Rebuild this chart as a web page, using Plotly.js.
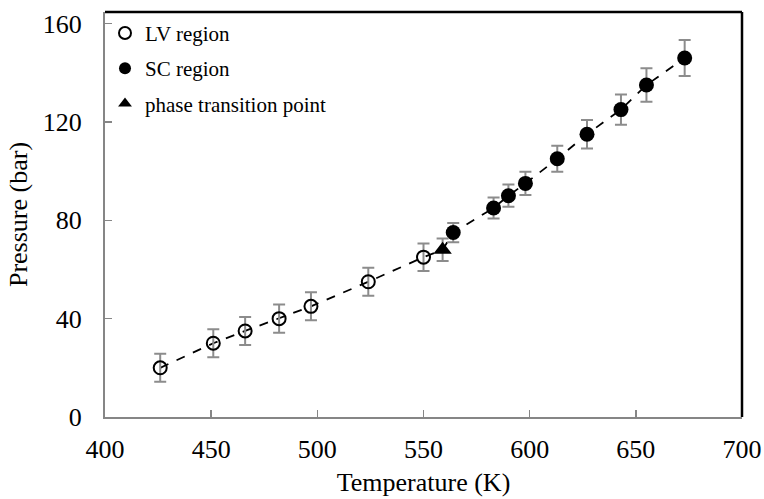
<!DOCTYPE html>
<html>
<head>
<meta charset="utf-8">
<script src="https://cdn.plot.ly/plotly-3.0.1.min.js"></script>
<style>html,body{margin:0;padding:0;background:#fff;}#chart{width:764px;height:499px;}</style>
</head>
<body>
<div id="chart"></div>
<script>
// LV region (open circles)
const lvT = [426, 451, 466, 482, 497, 524, 550];
const lvP = [20, 30, 35, 40, 45, 55, 65];
const lvErr = [5.7, 5.7, 5.7, 5.7, 5.7, 5.7, 5.6];
// SC region (filled circles)
const scT = [564, 583, 590, 598, 613, 627, 643, 655, 673];
const scP = [75, 85, 90, 95, 105, 115, 125, 135, 146];
const scErr = [3.9, 4.3, 4.5, 4.7, 5.3, 5.8, 6.2, 6.8, 7.3];
// Phase transition point (triangle)
const ptT = [559];
const ptP = [68];
const ptErr = [4.6];

const xTicks = [400, 450, 500, 550, 600, 650, 700];
const yTicks = [0, 40, 80, 120, 160];

// Dashed line through all points in temperature order
const all = lvT.map((t,i)=>[t,lvP[i]])
  .concat(ptT.map((t,i)=>[t,ptP[i]]))
  .concat(scT.map((t,i)=>[t,scP[i]]))
  .sort((a,b)=>a[0]-b[0]);

const errStyle = (arr) => ({type:'data', array: arr, visible:true, color:'#8c8c8c', thickness:2, width:6});

const traces = [
  {x: all.map(d=>d[0]), y: all.map(d=>d[1]), mode:'lines', showlegend:false,
   line:{color:'#000', width:1.8, dash:'dash'}, hoverinfo:'skip'},
  {x: lvT, y: lvP, mode:'markers', name:'LV region', legendgroup:'a',
   marker:{symbol:'circle-open', size:13, color:'#000', line:{width:2, color:'#000'}},
   error_y: errStyle(lvErr)},
  {x: scT, y: scP, mode:'markers', name:'SC region', legendgroup:'b',
   marker:{symbol:'circle', size:15, color:'#000'},
   error_y: errStyle(scErr)},
  {x: ptT, y: ptP, mode:'markers', name:'phase transition point', legendgroup:'c',
   marker:{symbol:'triangle-up', size:16, color:'#000'},
   error_y: errStyle(ptErr)}
];

const FAM = 'Liberation Serif, Times New Roman, serif';
const f = (s) => ({family:FAM, size:s, color:'#000'});

const layout = {
  width:764, height:499,
  margin:{l:105, r:22, t:12, b:82},
  paper_bgcolor:'#fff', plot_bgcolor:'#fff',
  font: f(26),
  showlegend:true,
  legend:{x:0.0, y:0.998, xanchor:'left', yanchor:'top', bgcolor:'rgba(0,0,0,0)',
          font:f(21), tracegroupgap:5, itemsizing:'constant'},
  xaxis:{range:[400,700], tickvals:xTicks, ticktext:xTicks.map(String),
         showgrid:false, zeroline:false, showline:true, linecolor:'#868686', linewidth:2,
         ticks:'inside', ticklen:7, tickcolor:'#868686', tickwidth:1.5,
         ticklabelstandoff:8,
         tickfont:f(26),
         title:{text:'Temperature (K)', font:f(26), standoff:10}},
  yaxis:{range:[0,164.7], tickvals:yTicks, ticktext:yTicks.map(String),
         showgrid:false, zeroline:false, showline:true, linecolor:'#868686', linewidth:2,
         ticks:'inside', ticklen:7, tickcolor:'#868686', tickwidth:1.5,
         ticklabelstandoff:16,
         tickfont:f(26),
         title:{text:'Pressure (bar)', font:f(26), standoff:8}},
  shapes:[
    {type:'line', xref:'paper', yref:'paper', x0:0, x1:1, y0:1, y1:1, line:{color:'#000', width:2.5}},
    {type:'line', xref:'paper', yref:'paper', x0:1, x1:1, y0:0, y1:1, line:{color:'#000', width:2.5}}
  ]
};

Plotly.newPlot('chart', traces, layout, {displayModeBar:false, staticPlot:true});
</script>
</body>
</html>
